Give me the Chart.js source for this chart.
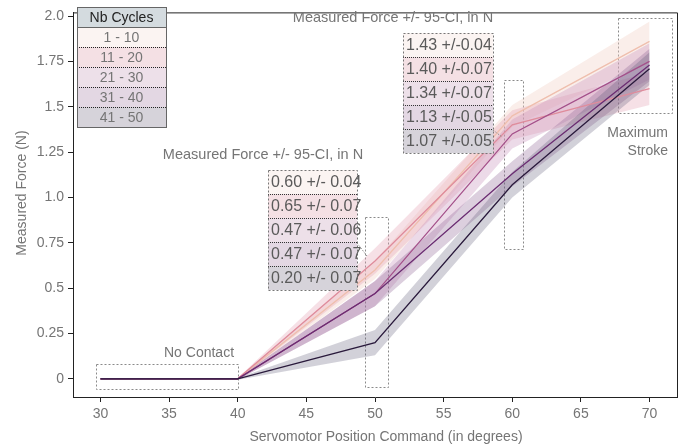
<!DOCTYPE html>
<html>
<head>
<meta charset="utf-8">
<script src="https://cdn.jsdelivr.net/npm/chart.js@4/dist/chart.umd.min.js"></script>
<style>
  html, body { margin: 0; padding: 0; background: #fff; }
  #wrap { width: 694px; height: 448px; }
</style>
</head>
<body>
<div id="wrap"><canvas id="forceChart"></canvas></div>
<script>
// Measured force vs servomotor command, 5 cycle groups
const positions = [30, 40, 50, 60, 70];
const cycleGroups = ['1 - 10', '11 - 20', '21 - 30', '31 - 40', '41 - 50'];

const force1to10  = [0, 0, 0.60, 1.45, 1.86];
const force11to20 = [0, 0, 0.65, 1.40, 1.60];
const force21to30 = [0, 0, 0.47, 1.35, 1.75];
const force31to40 = [0, 0, 0.47, 1.13, 1.73];
const force41to50 = [0, 0, 0.20, 1.07, 1.71];

const ci1to10  = [0, 0.005, 0.05, 0.06, 0.11];
const ci11to20 = [0, 0.005, 0.07, 0.08, 0.09];
const ci21to30 = [0, 0.005, 0.07, 0.08, 0.10];
const ci31to40 = [0, 0.005, 0.07, 0.07, 0.09];
const ci41to50 = [0, 0.005, 0.07, 0.07, 0.09];

const xTicks = [30, 35, 40, 45, 50, 55, 60, 65, 70];
const yTicks = [0, 0.25, 0.5, 0.75, 1.0, 1.25, 1.5, 1.75, 2.0];
const yTickLabels = ['0', '0.25', '0.5', '0.75', '1.0', '1.25', '1.5', '1.75', '2.0'];

const ciTitle = 'Measured Force +/- 95-CI, in N';
const ciLabels50 = ['0.60 +/- 0.04', '0.65 +/- 0.07', '0.47 +/- 0.06', '0.47 +/- 0.07', '0.20 +/- 0.07'];
const ciLabels60 = ['1.43 +/-0.04', '1.40 +/-0.07', '1.34 +/-0.07', '1.13 +/-0.05', '1.07 +/-0.05'];

const allForces = [force1to10, force11to20, force21to30, force31to40, force41to50];
const allCis = [ci1to10, ci11to20, ci21to30, ci31to40, ci41to50];

const lineColors = ['#efbfae', '#df8c9c', '#a4508a', '#6b2d72', '#2a1a3c'];
const bandColors = ['rgba(240,205,195,0.35)', 'rgba(228,160,178,0.32)', 'rgba(196,140,182,0.32)',
                    'rgba(140,95,145,0.3)', 'rgba(95,88,120,0.28)'];
const boxColors = ['#fbf4f2', '#f4e0e4', '#ede0e9', '#e3d7e3', '#d6d3da'];

const FONT = '"Liberation Sans", Arial, sans-serif';
const GREY = '#757575';

const datasets = [];
// bands first (drawn underneath)
allForces.forEach((f, i) => {
    datasets.push({
        data: positions.map((x, k) => ({ x: x, y: f[k] + allCis[i][k] })),
        borderWidth: 0, pointRadius: 0, fill: false, order: 20 - i
    });
    datasets.push({
        data: positions.map((x, k) => ({ x: x, y: f[k] - allCis[i][k] })),
        borderWidth: 0, pointRadius: 0, fill: '-1', backgroundColor: bandColors[i], order: 20 - i
    });
});
// lines, darkest group on top
allForces.forEach((f, i) => {
    datasets.push({
        label: cycleGroups[i],
        data: positions.map((x, k) => ({ x: x, y: f[k] })),
        borderColor: lineColors[i], borderWidth: 1.3, pointRadius: 0, fill: false, order: 10 - i
    });
});

function dottedRect(ctx, x, y, w, h, color) {
    ctx.save();
    ctx.strokeStyle = color;
    ctx.lineWidth = 1;
    ctx.setLineDash([2, 2]);
    ctx.strokeRect(Math.round(x) + 0.5, Math.round(y) + 0.5, Math.round(w), Math.round(h));
    ctx.restore();
}

function drawTable(ctx, x, y, w, rowH, labels, fontSize) {
    labels.forEach((t, i) => {
        ctx.fillStyle = boxColors[i];
        ctx.fillRect(x, y + i * rowH, w, rowH);
    });
    ctx.save();
    ctx.setLineDash([1, 1]);
    ctx.strokeStyle = '#333';
    for (let i = 1; i < labels.length; i++) {
        ctx.beginPath();
        ctx.moveTo(x, y + i * rowH + 0.5);
        ctx.lineTo(x + w, y + i * rowH + 0.5);
        ctx.stroke();
    }
    ctx.restore();
    dottedRect(ctx, x, y, w, rowH * labels.length, '#777');
    ctx.fillStyle = '#5a5a5a';
    ctx.font = fontSize + 'px ' + FONT;
    ctx.textAlign = 'left';
    ctx.textBaseline = 'middle';
    labels.forEach((t, i) => ctx.fillText(t, x + 3, y + i * rowH + rowH / 2 + 1));
}

const decorPlugin = {
    id: 'decor',
    beforeDatasetsDraw(chart) {
        const ctx = chart.ctx, xs = chart.scales.x, ys = chart.scales.y;
        const box = (x0, x1, y0, y1) => dottedRect(ctx, xs.getPixelForValue(x0), ys.getPixelForValue(y1),
            xs.getPixelForValue(x1) - xs.getPixelForValue(x0), ys.getPixelForValue(y0) - ys.getPixelForValue(y1), '#8a8a8a');
        box(29.7, 40.05, -0.06, 0.08);
        box(49.3, 50.95, -0.045, 0.89);
        box(59.4, 60.75, 0.72, 1.65);
        box(67.7, 71.65, 1.465, 1.99);
    },
    afterDraw(chart) {
        const ctx = chart.ctx, a = chart.chartArea;
        ctx.save();
        // frame top/right
        ctx.strokeStyle = '#222';
        ctx.lineWidth = 1;
        ctx.beginPath();
        ctx.moveTo(a.left, a.top + 0.5);
        ctx.lineTo(a.right + 0.5, a.top + 0.5);
        ctx.lineTo(a.right + 0.5, a.bottom);
        ctx.stroke();

        // axis titles
        ctx.fillStyle = GREY;
        ctx.textAlign = 'center';
        ctx.textBaseline = 'middle';
        ctx.font = '14px ' + FONT;
        ctx.fillText('Servomotor Position Command (in degrees)', 386, 437);
        ctx.save();
        ctx.translate(22.5, 193);
        ctx.rotate(-Math.PI / 2);
        ctx.fillText('Measured Force (N)', 0, 0);
        ctx.restore();

        // legend
        const lx = 77, ly = 7, lw = 89, hh = 20, rh = 20;
        ctx.fillStyle = '#d4dbdf';
        ctx.fillRect(lx, ly, lw, hh);
        cycleGroups.forEach((g, i) => {
            ctx.fillStyle = boxColors[i];
            ctx.fillRect(lx, ly + hh + i * rh, lw, rh);
        });
        ctx.save();
        ctx.setLineDash([1, 1]);
        ctx.strokeStyle = '#222';
        for (let i = 1; i < cycleGroups.length; i++) {
            ctx.beginPath();
            ctx.moveTo(lx, ly + hh + i * rh + 0.5);
            ctx.lineTo(lx + lw, ly + hh + i * rh + 0.5);
            ctx.stroke();
        }
        ctx.restore();
        ctx.strokeStyle = '#666';
        ctx.strokeRect(lx + 0.5, ly + 0.5, lw, hh + rh * 5);
        ctx.beginPath();
        ctx.moveTo(lx, ly + hh + 0.5);
        ctx.lineTo(lx + lw, ly + hh + 0.5);
        ctx.stroke();
        ctx.font = '14px ' + FONT;
        ctx.fillStyle = '#222';
        ctx.fillText('Nb Cycles', lx + lw / 2, ly + hh / 2 + 1);
        ctx.fillStyle = GREY;
        cycleGroups.forEach((g, i) => ctx.fillText(g, lx + lw / 2, ly + hh + i * rh + rh / 2 + 1));

        // CI tables
        ctx.font = '14.5px ' + FONT;
        ctx.fillStyle = GREY;
        ctx.fillText(ciTitle, 263, 155);
        ctx.fillText(ciTitle, 393, 18);
        drawTable(ctx, 268, 170, 89, 24, ciLabels50, 16);
        drawTable(ctx, 403, 33, 90, 24, ciLabels60, 16);

        // connectors
        ctx.save();
        ctx.setLineDash([1.5, 1.5]);
        ctx.strokeStyle = '#888';
        ctx.beginPath();
        ctx.moveTo(357, 243); ctx.lineTo(367, 256);
        ctx.moveTo(493, 130); ctx.lineTo(502, 137);
        ctx.stroke();
        ctx.restore();

        // text notes
        ctx.fillStyle = GREY;
        ctx.font = '14px ' + FONT;
        ctx.textAlign = 'center';
        ctx.fillText('No Contact', 199, 353);
        ctx.textAlign = 'right';
        ctx.fillText('Maximum', 668, 133);
        ctx.fillText('Stroke', 668, 151);
        ctx.restore();
    }
};

new Chart(document.getElementById('forceChart'), {
    type: 'line',
    data: { datasets: datasets },
    options: {
        responsive: true,
        maintainAspectRatio: false,
        animation: false,
        layout: { padding: { left: 0, top: 12, right: 17, bottom: 0 } },
        plugins: { legend: { display: false }, tooltip: { enabled: false } },
        elements: { line: { tension: 0 } },
        scales: {
            x: {
                type: 'linear', min: 28, max: 72,
                afterBuildTicks: s => { s.ticks = xTicks.map(v => ({ value: v })); },
                afterFit: s => { s.height = 51; },
                grid: { drawOnChartArea: false, drawTicks: true, tickLength: 5, tickColor: '#222' },
                border: { display: true, color: '#222', width: 1 },
                ticks: { color: GREY, font: { family: FONT, size: 14 }, padding: 4, maxRotation: 0 }
            },
            y: {
                type: 'linear', min: -0.1, max: 2.02,
                afterBuildTicks: s => { s.ticks = yTicks.map(v => ({ value: v })); },
                afterFit: s => { s.width = 73; },
                grid: { drawOnChartArea: false, drawTicks: true, tickLength: 5, tickColor: '#222' },
                border: { display: true, color: '#222', width: 1 },
                ticks: { color: GREY, font: { family: FONT, size: 14 }, padding: 4,
                         callback: (v) => { const i = yTicks.indexOf(v); return i >= 0 ? yTickLabels[i] : ''; } }
            }
        }
    },
    plugins: [decorPlugin]
});
</script>
</body>
</html>
